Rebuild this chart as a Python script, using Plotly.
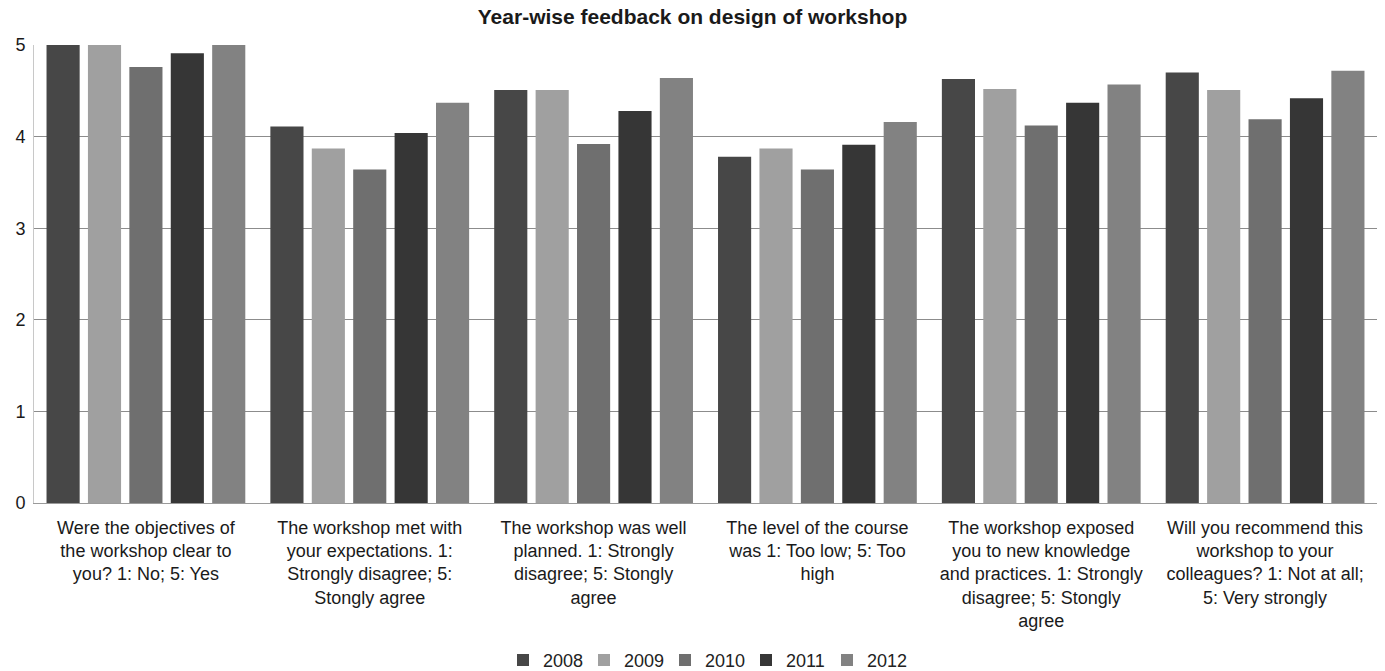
import plotly.graph_objects as go

categories = [
    "Were the objectives of<br>the workshop clear to<br>you? 1: No; 5: Yes",
    "The workshop met with<br>your expectations. 1:<br>Strongly disagree; 5:<br>Stongly agree",
    "The workshop was well<br>planned. 1: Strongly<br>disagree; 5: Stongly<br>agree",
    "The level of the course<br>was 1: Too low; 5: Too<br>high",
    "The workshop exposed<br>you to new knowledge<br>and practices. 1: Strongly<br>disagree; 5: Stongly<br>agree",
    "Will you recommend this<br>workshop to your<br>colleagues? 1: Not at all;<br>5: Very strongly",
]

years = ["2008", "2009", "2010", "2011", "2012"]

scores_2008 = [5.00, 4.11, 4.51, 3.78, 4.63, 4.70]
scores_2009 = [5.00, 3.87, 4.51, 3.87, 4.52, 4.51]
scores_2010 = [4.76, 3.64, 3.92, 3.64, 4.12, 4.19]
scores_2011 = [4.91, 4.04, 4.28, 3.91, 4.37, 4.42]
scores_2012 = [5.00, 4.37, 4.64, 4.16, 4.57, 4.72]

series = [scores_2008, scores_2009, scores_2010, scores_2011, scores_2012]
colors = ["#474747", "#a0a0a0", "#6f6f6f", "#363636", "#828282"]

fig = go.Figure()
for year, vals, col in zip(years, series, colors):
    fig.add_trace(go.Bar(
        name=year, x=categories, y=vals,
        marker=dict(color=col, line=dict(width=0)),
    ))

fig.update_layout(
    width=1385, height=671,
    margin=dict(l=34, r=8, t=45, b=168),
    paper_bgcolor="white", plot_bgcolor="white",
    barmode="group", bargap=0.075, bargroupgap=0.2,
    font=dict(family="Liberation Sans, Arial, sans-serif", color="#1a1a1a"),
    title=dict(
        text="<b>Year-wise feedback on design of workshop</b>",
        x=0.5, xanchor="center", y=0.975, yanchor="middle",
        font=dict(size=21, color="#1a1a1a"),
    ),
    legend=dict(
        orientation="h", x=0.5, xanchor="center",
        yref="container", y=0.016, yanchor="middle",
        font=dict(size=18, color="#222"),
        itemwidth=30, entrywidth=36, traceorder="normal",
    ),
    showlegend=True,
)

fig.update_xaxes(
    tickfont=dict(size=18, color="#1a1a1a"),
    tickangle=0, showline=True, linecolor="#9a9a9a", linewidth=1,
    ticks="", showgrid=False, automargin=False, ticklabelstandoff=8,
)
fig.update_yaxes(
    range=[0, 5], dtick=1, tickfont=dict(size=18, color="#1a1a1a"),
    showgrid=True, gridcolor="#8c8c8c", gridwidth=1,
    showline=True, linecolor="#c8c8c8", linewidth=1,
    zeroline=False, ticks="", ticklabelstandoff=4, automargin=False,
)

fig.write_html("out.html")
